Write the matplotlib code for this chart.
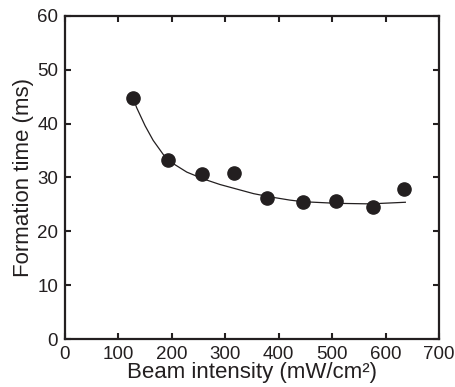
import numpy as np
import matplotlib
matplotlib.use('Agg')
import matplotlib.pyplot as plt

plt.rcParams['font.family'] = ['Liberation Sans', 'DejaVu Sans']

# measured points
intensity = [128, 192, 256, 316, 378, 445, 508, 577, 635]
form_time = [44.7, 33.3, 30.7, 30.9, 26.2, 25.4, 25.6, 24.5, 27.8]

# fitted curve
fit_x = [128, 134, 150, 165, 191, 228, 260, 290, 353, 384, 421, 446, 509, 571, 637]
fit_y = [44.7, 43.0, 39.6, 36.9, 33.3, 31.0, 29.7, 28.7, 27.0, 26.4, 25.8, 25.5, 25.2, 25.1, 25.4]

ink = '#231f20'

fig = plt.figure(figsize=(4.56, 3.87), dpi=100)
ax = fig.add_axes([0.1425, 0.124, 0.8202, 0.8347])

ax.plot(fit_x, fit_y, color=ink, linewidth=0.9)
ax.plot(intensity, form_time, 'o', color=ink, markersize=9.5)

ax.set_xlim(0, 700)
ax.set_ylim(0, 60)
ax.set_xticks(np.arange(0, 701, 100))
ax.set_yticks(np.arange(0, 61, 10))

for s in ax.spines.values():
    s.set_linewidth(1.6)
    s.set_color(ink)

ax.tick_params(direction='in', top=True, right=True, length=4.5, width=1.5,
               color=ink, labelsize=13.5, labelcolor=ink, pad=5)

ax.set_xlabel('Beam intensity (mW/cm\u00b2)', fontsize=16, color=ink, labelpad=-1)
ax.set_ylabel('Formation time (ms)', fontsize=16, color=ink, labelpad=2)

fig.savefig('out.png', dpi=100)
